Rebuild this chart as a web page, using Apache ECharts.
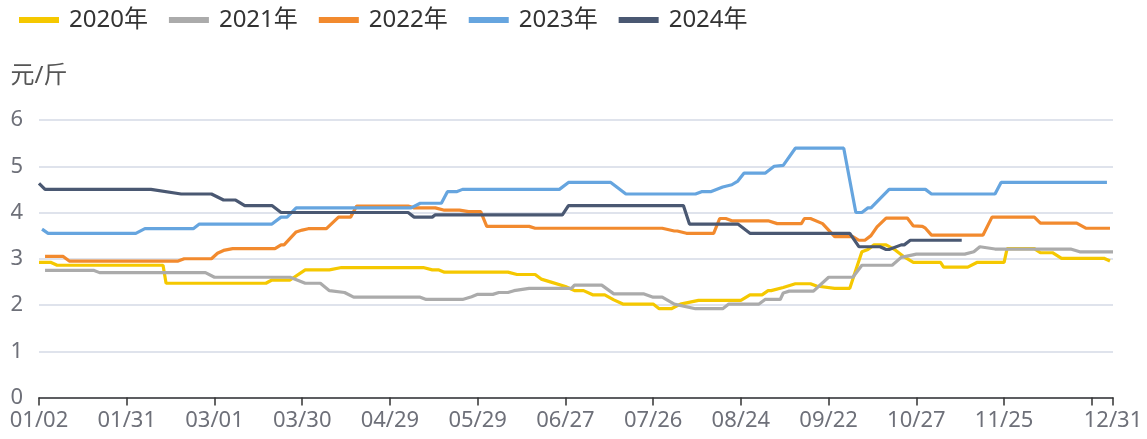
<!DOCTYPE html>
<html><head><meta charset="utf-8">
<script src="https://cdn.jsdelivr.net/npm/echarts@6/dist/echarts.min.js"></script>
<style>html,body{margin:0;padding:0;background:#fff}#c{width:1147px;height:439px}</style>
</head><body><div id="c"></div>
<script>
// ---- data ----
const skippedDates = ['02/10','04/04','05/01','10/01','10/02','10/03','10/04','10/05','10/06'];
const tickLabels = ['01/02','01/31','03/01','03/30','04/29','05/29','06/27','07/26','08/24','09/22','10/27','11/25','12/31'];
const extraTicks = ['12/24'];
const seriesNames = ['2020年','2021年','2022年','2023年','2024年'];
const yTicks = [0,1,2,3,4,5,6];

const s2020 = [['01/02',2.92],['01/06',2.92],['01/08',2.86],['02/13',2.86],['02/14',2.47],['03/18',2.47],['03/20',2.54],['03/26',2.54],['03/31',2.76],['04/09',2.76],['04/13',2.81],['05/11',2.81],['05/14',2.76],['05/16',2.76],['05/18',2.71],['06/08',2.71],['06/11',2.66],['06/17',2.66],['06/19',2.56],['06/22',2.5],['06/27',2.4],['06/30',2.31],['07/03',2.31],['07/06',2.22],['07/10',2.22],['07/13',2.11],['07/16',2.02],['07/26',2.02],['07/28',1.92],['08/01',1.92],['08/04',2.02],['08/10',2.1],['08/24',2.1],['08/27',2.22],['08/31',2.22],['09/02',2.31],['09/03',2.31],['09/07',2.38],['09/11',2.46],['09/16',2.46],['09/18',2.41],['09/24',2.36],['09/29',2.36],['10/09',3.15],['10/11',3.2],['10/13',3.3],['10/17',3.3],['10/20',3.19],['10/23',3.04],['10/26',2.92],['11/04',2.92],['11/05',2.82],['11/13',2.82],['11/16',2.92],['11/25',2.92],['11/26',3.22],['12/05',3.22],['12/07',3.13],['12/11',3.13],['12/14',3.01],['12/28',3.01],['12/30',2.95]];
const s2021 = [['01/04',2.75],['01/20',2.75],['01/22',2.7],['02/27',2.7],['03/01',2.6],['03/26',2.6],['03/31',2.47],['04/06',2.47],['04/09',2.31],['04/14',2.27],['04/17',2.17],['05/10',2.17],['05/12',2.12],['05/24',2.12],['05/27',2.18],['05/29',2.23],['06/03',2.23],['06/05',2.27],['06/08',2.27],['06/10',2.31],['06/15',2.36],['06/29',2.36],['06/30',2.43],['07/09',2.43],['07/13',2.24],['07/23',2.24],['07/26',2.17],['07/29',2.17],['08/02',2.02],['08/09',1.92],['08/18',1.92],['08/20',2.02],['08/30',2.02],['09/01',2.12],['09/06',2.12],['09/07',2.26],['09/09',2.3],['09/17',2.3],['09/22',2.6],['09/30',2.6],['10/09',2.86],['10/19',2.86],['10/22',3.03],['10/27',3.1],['11/12',3.1],['11/15',3.15],['11/17',3.26],['11/22',3.21],['12/17',3.21],['12/20',3.15],['12/31',3.15]];
const s2022 = [['01/04',3.05],['01/10',3.05],['01/12',2.95],['02/18',2.95],['02/20',3.0],['02/29',3.0],['03/02',3.12],['03/04',3.18],['03/07',3.22],['03/21',3.22],['03/23',3.3],['03/24',3.3],['03/28',3.58],['03/30',3.62],['04/01',3.65],['04/08',3.65],['04/12',3.9],['04/16',3.9],['04/18',4.14],['05/06',4.14],['05/08',4.1],['05/15',4.1],['05/18',4.05],['05/23',4.05],['05/26',4.02],['05/30',4.02],['06/01',3.7],['06/15',3.7],['06/17',3.66],['07/29',3.66],['08/02',3.6],['08/03',3.6],['08/06',3.55],['08/15',3.55],['08/17',3.87],['08/19',3.87],['08/21',3.82],['09/02',3.82],['09/05',3.76],['09/13',3.76],['09/14',3.87],['09/16',3.87],['09/20',3.76],['09/22',3.62],['09/24',3.48],['09/30',3.48],['10/08',3.4],['10/10',3.4],['10/12',3.5],['10/14',3.69],['10/17',3.88],['10/24',3.88],['10/26',3.71],['10/29',3.7],['10/30',3.66],['11/01',3.51],['11/18',3.51],['11/21',3.9],['12/05',3.9],['12/07',3.77],['12/19',3.77],['12/22',3.66],['12/30',3.66]];
const s2023 = [['01/03',3.64],['01/05',3.55],['02/03',3.55],['02/06',3.65],['02/23',3.65],['02/25',3.75],['03/20',3.75],['03/23',3.9],['03/25',3.9],['03/28',4.1],['05/07',4.1],['05/10',4.2],['05/17',4.2],['05/19',4.45],['05/22',4.45],['05/24',4.5],['06/25',4.5],['06/28',4.65],['07/12',4.65],['07/17',4.4],['08/09',4.4],['08/11',4.45],['08/14',4.45],['08/18',4.55],['08/21',4.6],['08/23',4.68],['08/25',4.85],['09/01',4.85],['09/04',5.0],['09/07',5.02],['09/11',5.39],['09/27',5.39],['10/07',4.0],['10/09',4.0],['10/11',4.1],['10/12',4.1],['10/18',4.5],['10/30',4.5],['11/01',4.4],['11/22',4.4],['11/24',4.65],['12/29',4.65]];
const s2024 = [['01/02',4.63],['01/04',4.5],['02/08',4.5],['02/19',4.4],['02/29',4.4],['03/04',4.27],['03/08',4.27],['03/11',4.15],['03/20',4.15],['03/23',4.0],['05/06',4.0],['05/08',3.9],['05/14',3.9],['05/15',3.95],['06/26',3.95],['06/28',4.15],['08/05',4.15],['08/07',3.75],['08/23',3.75],['08/27',3.55],['09/29',3.55],['10/08',3.26],['10/15',3.26],['10/17',3.2],['10/18',3.2],['10/22',3.3],['10/23',3.3],['10/25',3.4],['11/11',3.4]];

// ---- categories (daily MM/DD, non-trading holidays omitted) ----
const categories = [];
for (let t = Date.UTC(2024,0,2); t <= Date.UTC(2024,11,31); t += 86400000) {
  const d = new Date(t);
  const s = String(d.getUTCMonth()+1).padStart(2,'0') + '/' + String(d.getUTCDate()).padStart(2,'0');
  if (!skippedDates.includes(s)) categories.push(s);
}
const catIndex = {};
categories.forEach((c,i) => catIndex[c] = i);
const toPts = arr => arr.map(p => [catIndex[p[0]], p[1]]);

const colors = ['#F5C800','#ABABAB','#F28A2E','#66A5DF','#4A5872'];
const allSeries = [s2020, s2021, s2022, s2023, s2024];
const FONT = "'Noto Sans', 'Noto Sans CJK SC', sans-serif";

const chart = echarts.init(document.getElementById('c'), null, {renderer:'canvas'});
chart.setOption({
  animation: false,
  backgroundColor: '#fff',
  color: colors,
  textStyle: {fontFamily: FONT},
  legend: {
    data: seriesNames, left: 19, top: 8, padding: 0,
    icon: 'rect', itemWidth: 40, itemHeight: 6, itemGap: 21,
    textStyle: {fontSize: 24, color: '#333', fontFamily: FONT, padding: [0,0,0,5]}
  },
  grid: {left: 39, right: 34, top: 120, bottom: 41.5, containLabel: false, outerBoundsMode: 'none'},
  xAxis: {
    type: 'category', data: categories, boundaryGap: false,
    axisLine: {lineStyle: {color: '#333', width: 1.5}},
    axisTick: {length: 8, lineStyle: {color: '#333', width: 1.5},
      interval: (i, v) => tickLabels.includes(v) || extraTicks.includes(v)},
    axisLabel: {fontSize: 22, color: '#6E7079', margin: 12, fontFamily: FONT,
      interval: (i, v) => tickLabels.includes(v), showMaxLabel: true, showMinLabel: true},
    splitLine: {show: false}
  },
  yAxis: {
    type: 'value', min: yTicks[0], max: yTicks[yTicks.length-1], interval: 1,
    name: '元/斤', nameLocation: 'end', nameGap: 32,
    nameTextStyle: {fontSize: 24, color: '#555', fontFamily: FONT},
    axisLine: {show: false}, axisTick: {show: false},
    axisLabel: {fontSize: 22, color: '#6E7079', margin: 16, fontFamily: FONT},
    splitLine: {lineStyle: {color: '#DFE3EC', width: 2}}
  },
  series: allSeries.map((s, k) => ({
    name: seriesNames[k], type: 'line', data: toPts(s),
    showSymbol: false, symbol: 'none',
    lineStyle: {width: 3.2, color: colors[k]},
    itemStyle: {color: colors[k]}
  }))
});
</script></body></html>
